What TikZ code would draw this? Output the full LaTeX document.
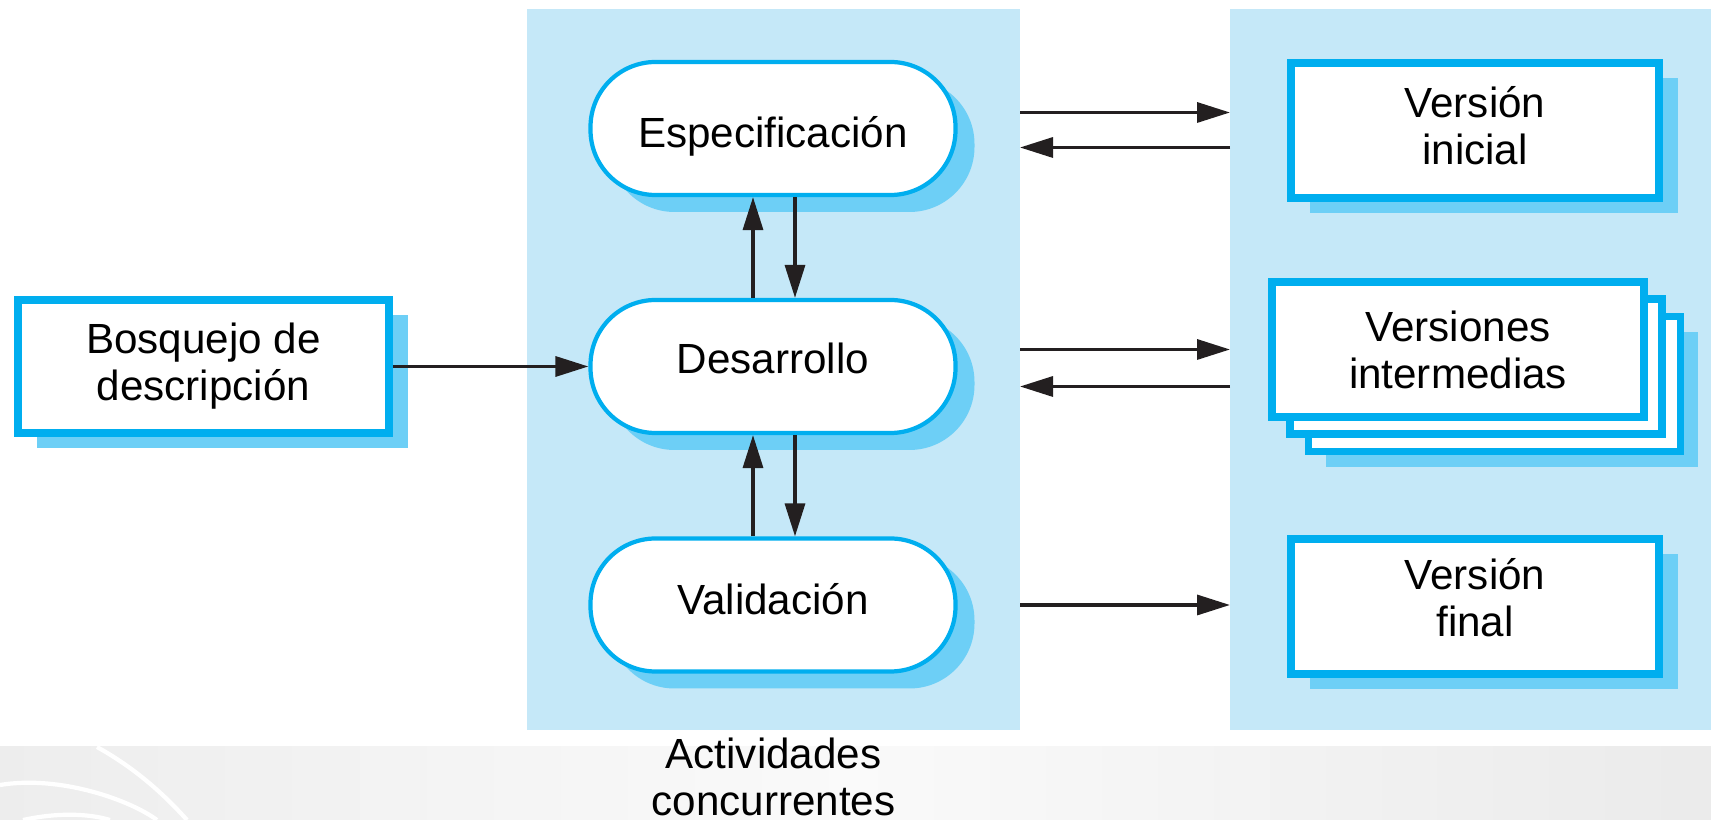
\documentclass[tikz,border=0pt]{standalone}
\usepackage{fontspec}
\setmainfont{Liberation Sans}
\usetikzlibrary{arrows.meta,shadows}
\definecolor{panelblue}{HTML}{C5E8F8}
\definecolor{lineblue}{HTML}{00AEEF}
\definecolor{shadeblue}{HTML}{6DCFF6}
\definecolor{arrowblack}{HTML}{231F20}
\tikzset{
  activity/.style={rectangle, rounded corners=0.65cm, draw=lineblue, line width=1.2pt, fill=white,
    minimum width=3.65cm, minimum height=1.33cm,
    drop shadow={shadow xshift=0.19cm, shadow yshift=-0.17cm, fill=shadeblue, opacity=1}},
  docbox/.style={rectangle, draw=lineblue, line width=2.2pt, fill=white, align=center,
    minimum width=3.68cm, minimum height=1.35cm,
    drop shadow={shadow xshift=0.19cm, shadow yshift=-0.15cm, fill=shadeblue, opacity=1}},
  docstack/.style={rectangle, draw=lineblue, line width=2.2pt, fill=white, align=center,
    minimum width=3.72cm, minimum height=1.35cm,
    drop shadow={shadow xshift=0.535cm, shadow yshift=-0.50cm, fill=shadeblue, opacity=1},
    copy shadow={shadow xshift=0.365cm, shadow yshift=-0.345cm, fill=white, draw=lineblue, line width=2.2pt},
    copy shadow={shadow xshift=0.18cm, shadow yshift=-0.17cm, fill=white, draw=lineblue, line width=2.2pt}},
  panel/.style={rectangle, fill=panelblue, inner sep=0pt, outer sep=0pt, anchor=south west},
  flow/.style={draw=arrowblack, line width=0.95pt, -{Triangle[length=0.33cm,width=0.2cm]}},
}
\begin{document}
\begin{tikzpicture}[every node/.style={font=\fontsize{12}{13.4}\selectfont}]
\useasboundingbox (0,0) rectangle (17.11,8.20);
% background band
\shade[left color=gray!14, right color=gray!16, middle color=gray!4] (0,0) rectangle (17.11,0.73);
\draw[white, line width=1.2pt] (0.97,0.73) .. controls (1.33,0.53) and (1.62,0.28) .. (1.87,0);
\draw[white, line width=1.2pt] (0,0.35) .. controls (0.6,0.45) and (1.3,0.2) .. (1.57,0);
\draw[white, line width=1.2pt] (0.23,0) .. controls (0.6,0.08) and (0.9,0.06) .. (1.10,0);
% panels
\node[panel, minimum width=4.93cm, minimum height=7.21cm] (actpanel) at (5.27,0.90) {};
\node[panel, minimum width=4.81cm, minimum height=7.21cm] (outpanel) at (12.30,0.90) {};
\node[align=center] (actlabel) at (7.735,0.43) {Actividades\\concurrentes};
% nodes
\node[docbox, minimum width=3.71cm, minimum height=1.33cm] (bosquejo) at (2.035,4.535) {Bosquejo de\\descripción};
\node[activity, text height=0.6cm, text depth=0.21cm] (espec) at (7.73,6.915) {Especificación};
\node[activity, text height=0.4cm, text depth=0.25cm] (desarrollo) at (7.73,4.535) {Desarrollo};
\node[activity, text height=0.45cm, text depth=0.25cm] (validacion) at (7.73,2.15) {Validación};
\node[docbox, text height=0.90cm, text depth=0.21cm] (inicial) at (14.75,6.895) {Versión\\inicial};
\node[docstack] (intermedias) at (14.58,4.705) {Versiones\\intermedias};
\node[docbox, text height=0.86cm, text depth=0.25cm] (final) at (14.75,2.135) {Versión\\final};
% connectors
\draw[flow] (bosquejo.east) -- (desarrollo.west);
\draw[flow] ([xshift=-0.20cm]desarrollo.north) -- ([xshift=-0.20cm]espec.south);
\draw[flow] ([xshift=0.22cm]espec.south) -- ([xshift=0.22cm]desarrollo.north);
\draw[flow] ([xshift=-0.20cm]validacion.north) -- ([xshift=-0.20cm]desarrollo.south);
\draw[flow] ([xshift=0.22cm]desarrollo.south) -- ([xshift=0.22cm]validacion.north);
\draw[flow] ([yshift=0.16cm]espec.east -| actpanel.east) -- ([yshift=0.16cm]espec.east -| outpanel.west);
\draw[flow] ([yshift=-0.19cm]espec.east -| outpanel.west) -- ([yshift=-0.19cm]espec.east -| actpanel.east);
\draw[flow] ([yshift=0.17cm]desarrollo.east -| actpanel.east) -- ([yshift=0.17cm]desarrollo.east -| outpanel.west);
\draw[flow] ([yshift=-0.20cm]desarrollo.east -| outpanel.west) -- ([yshift=-0.20cm]desarrollo.east -| actpanel.east);
\draw[flow] (validacion.east -| actpanel.east) -- (validacion.east -| outpanel.west);
\end{tikzpicture}
\end{document}
